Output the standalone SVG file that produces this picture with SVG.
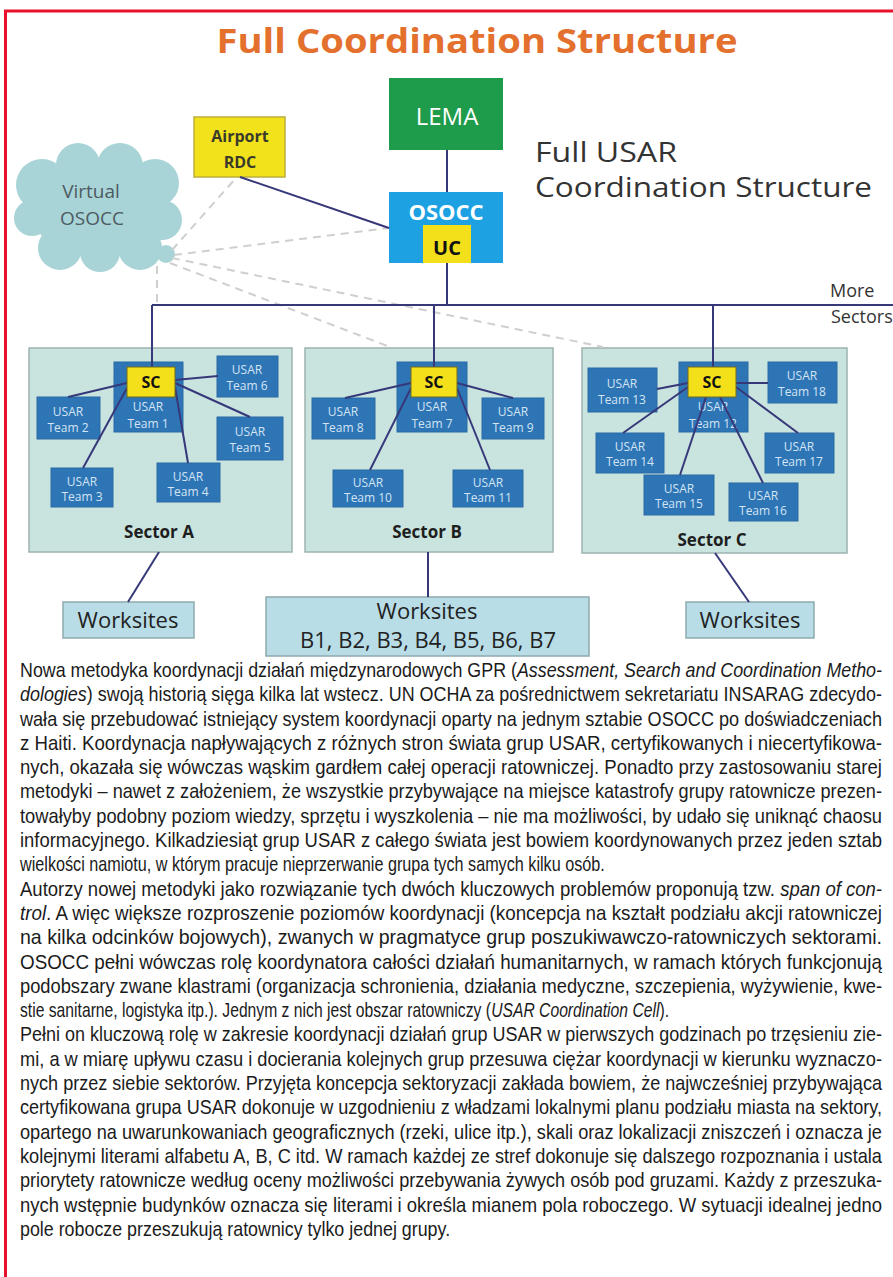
<svg xmlns="http://www.w3.org/2000/svg" width="893" height="1277" viewBox="0 0 893 1277">
<defs>
<style>
.sans{font-family:"Open Sans","Liberation Sans",Arial,sans-serif}
.team rect{fill:#2E75B6;stroke:#2B6AA5;stroke-width:1}
.team text{font-family:"Open Sans","Liberation Sans",Arial,sans-serif;font-size:12px;fill:#D3E4F4;text-anchor:middle}
.sc rect{fill:#F4E01A;stroke:#6F6A1E;stroke-width:1}
.sc text{font-family:"Open Sans","Liberation Sans",Arial,sans-serif;font-weight:bold;font-size:16px;fill:#111;text-anchor:middle}
.sector rect{fill:#C9E4DF;stroke:#9DB3B0;stroke-width:1.5}
.sector text{font-family:"Open Sans","Liberation Sans",Arial,sans-serif;font-weight:bold;font-size:17px;fill:#1E1E1E;text-anchor:middle}
.ws rect{fill:#B8DDE7;stroke:#8FA9AE;stroke-width:1.5}
.ws text{font-family:"Open Sans","Liberation Sans",Arial,sans-serif;font-size:22px;fill:#222;text-anchor:middle}
.conn{stroke:#363879;stroke-width:2;fill:none}
.dash{stroke:#CFCFCF;stroke-width:2;stroke-dasharray:8 6;fill:none}
.body{font-family:"Liberation Sans",Arial,sans-serif;font-size:20px;fill:#1B1B1B}
.it{font-style:italic}
</style>
</defs>
<rect x="0" y="0" width="893" height="1277" fill="#FFFFFF"/>
<g id="frame">
<line x1="4" y1="11" x2="893" y2="11" stroke="#E8102A" stroke-width="3"/>
<line x1="5.5" y1="10" x2="5.5" y2="1277" stroke="#E8102A" stroke-width="3"/>
</g>
<text id="title" class="sans" x="477" y="53" text-anchor="middle" font-size="34" font-weight="bold" fill="#E4702E" textLength="521" lengthAdjust="spacingAndGlyphs">Full Coordination Structure</text>
<g id="subtitle" class="sans" fill="#333333" font-size="28">
<text x="535" y="162" textLength="142" lengthAdjust="spacingAndGlyphs">Full USAR</text>
<text x="535" y="197" textLength="337" lengthAdjust="spacingAndGlyphs">Coordination Structure</text>
</g>
<g id="more-sectors" class="sans" fill="#333333" font-size="18">
<text x="830" y="297">More</text>
<text x="831" y="323">Sectors</text>
</g>
<g id="virtual-osocc">
<g fill="#A9D4D7">
<ellipse cx="98" cy="207" rx="72" ry="46"/>
<circle cx="42" cy="185" r="26"/>
<circle cx="78" cy="165" r="22"/>
<circle cx="120" cy="166" r="23"/>
<circle cx="155" cy="183" r="24"/>
<circle cx="162" cy="220" r="20"/>
<circle cx="140" cy="248" r="22"/>
<circle cx="100" cy="252" r="20"/>
<circle cx="60" cy="248" r="22"/>
<circle cx="32" cy="218" r="18"/>
<circle cx="166" cy="254" r="9"/>
</g>
<text class="sans" x="91" y="198" text-anchor="middle" font-size="19" fill="#4D5B62">Virtual</text>
<text class="sans" x="92" y="225" text-anchor="middle" font-size="19" fill="#4D5B62">OSOCC</text>
</g>
<g id="airport-rdc">
<rect x="194" y="117" width="91" height="60" fill="#F2E21C" stroke="#BDAF3A" stroke-width="1.5"/>
<text class="sans" x="240" y="142" text-anchor="middle" font-size="16" font-weight="bold" fill="#3A3A2A">Airport</text>
<text class="sans" x="240" y="168" text-anchor="middle" font-size="16" font-weight="bold" fill="#3A3A2A">RDC</text>
</g>
<g id="lema">
<rect x="389" y="78" width="114" height="72" fill="#1E9B4B"/>
<text class="sans" x="447" y="125" text-anchor="middle" font-size="24" fill="#FFFFFF">LEMA</text>
</g>
<g id="osocc">
<rect x="389" y="192" width="114" height="71" fill="#1DA1E2"/>
<text class="sans" x="446" y="220" text-anchor="middle" font-size="22" font-weight="bold" fill="#FFFFFF">OSOCC</text>
<rect x="423" y="225" width="48" height="38" fill="#F4E01A"/>
<text class="sans" x="447" y="255" text-anchor="middle" font-size="20" font-weight="bold" fill="#111111">UC</text>
</g>
<g id="sector-a" class="sector"><rect x="29" y="348" width="263" height="204"/><text x="159" y="538">Sector A</text></g>
<g id="sector-b" class="sector"><rect x="305" y="348" width="248" height="204"/><text x="427" y="538">Sector B</text></g>
<g id="sector-c" class="sector"><rect x="582" y="348" width="265" height="205"/><text x="712" y="546">Sector C</text></g>
<g id="team1" class="team"><rect x="114" y="362" width="69" height="70"/><text x="148" y="411">USAR</text><text x="148" y="428">Team 1</text></g>
<g id="team2" class="team"><rect x="37" y="397" width="63" height="42"/><text x="68" y="416">USAR</text><text x="68" y="432">Team 2</text></g>
<g id="team3" class="team"><rect x="51" y="468" width="62" height="39"/><text x="82" y="486">USAR</text><text x="82" y="501">Team 3</text></g>
<g id="team4" class="team"><rect x="157" y="463" width="63" height="39"/><text x="188" y="481">USAR</text><text x="188" y="496">Team 4</text></g>
<g id="team5" class="team"><rect x="217" y="417" width="66" height="43"/><text x="250" y="436">USAR</text><text x="250" y="452">Team 5</text></g>
<g id="team6" class="team"><rect x="217" y="356" width="61" height="41"/><text x="247" y="374">USAR</text><text x="247" y="390">Team 6</text></g>
<g id="team7" class="team"><rect x="397" y="362" width="70" height="70"/><text x="432" y="411">USAR</text><text x="432" y="428">Team 7</text></g>
<g id="team8" class="team"><rect x="312" y="398" width="63" height="41"/><text x="343" y="416">USAR</text><text x="343" y="432">Team 8</text></g>
<g id="team9" class="team"><rect x="482" y="398" width="62" height="41"/><text x="513" y="416">USAR</text><text x="513" y="432">Team 9</text></g>
<g id="team10" class="team"><rect x="333" y="470" width="70" height="37"/><text x="368" y="487">USAR</text><text x="368" y="502">Team 10</text></g>
<g id="team11" class="team"><rect x="453" y="470" width="70" height="37"/><text x="488" y="487">USAR</text><text x="488" y="502">Team 11</text></g>
<g id="team12" class="team"><rect x="679" y="362" width="69" height="70"/><text x="713" y="411">USAR</text><text x="713" y="428">Team 12</text></g>
<g id="team13" class="team"><rect x="588" y="368" width="69" height="44"/><text x="622" y="388">USAR</text><text x="622" y="404">Team 13</text></g>
<g id="team14" class="team"><rect x="596" y="433" width="68" height="40"/><text x="630" y="451">USAR</text><text x="630" y="466">Team 14</text></g>
<g id="team15" class="team"><rect x="644" y="475" width="70" height="40"/><text x="679" y="493">USAR</text><text x="679" y="508">Team 15</text></g>
<g id="team16" class="team"><rect x="729" y="483" width="69" height="38"/><text x="763" y="500">USAR</text><text x="763" y="515">Team 16</text></g>
<g id="team17" class="team"><rect x="765" y="433" width="69" height="40"/><text x="799" y="451">USAR</text><text x="799" y="466">Team 17</text></g>
<g id="team18" class="team"><rect x="768" y="362" width="69" height="41"/><text x="802" y="380">USAR</text><text x="802" y="396">Team 18</text></g>
<g id="worksites-a" class="ws"><rect x="63" y="602" width="131" height="36"/><text x="128" y="628">Worksites</text></g>
<g id="worksites-b" class="ws"><rect x="266" y="597" width="323" height="59"/><text x="427" y="619" font-size="21">Worksites</text><text x="428" y="648" font-size="21">B1, B2, B3, B4, B5, B6, B7</text></g>
<g id="worksites-c" class="ws"><rect x="686" y="602" width="128" height="36"/><text x="750" y="628">Worksites</text></g>
<g id="connectors">
<path class="dash" d="M172 250 L236 178"/>
<path class="dash" d="M174 255 L389 228"/>
<path class="dash" d="M172 258 L603 347"/>
<path class="dash" d="M170 263 L390 347"/>
<path class="dash" d="M157 266 L157 305"/>
<path class="conn" d="M447 150 V192"/>
<path class="conn" d="M447 263 V305"/>
<path class="conn" d="M240 177 L389 228"/>
<path class="conn" d="M152 305 H893"/>
<path class="conn" d="M152 305 V367"/>
<path class="conn" d="M434 305 V367"/>
<path class="conn" d="M713 305 V367"/>
<path class="conn" d="M127 383 L68 397"/>
<path class="conn" d="M127 388 L83 468"/>
<path class="conn" d="M175 387 L188 463"/>
<path class="conn" d="M175 383 L250 417"/>
<path class="conn" d="M175 380 L218 376"/>
<path class="conn" d="M411 383 L345 398"/>
<path class="conn" d="M411 388 L370 470"/>
<path class="conn" d="M457 383 L513 398"/>
<path class="conn" d="M457 388 L490 470"/>
<path class="conn" d="M688 383 L657 389"/>
<path class="conn" d="M688 387 L623 433"/>
<path class="conn" d="M706 397 L680 475"/>
<path class="conn" d="M720 397 L763 483"/>
<path class="conn" d="M736 387 L798 433"/>
<path class="conn" d="M736 383 L768 383"/>
<path class="conn" d="M159 552 L128 602"/>
<path class="conn" d="M428 552 V597"/>
<path class="conn" d="M715 553 L749 602"/>
</g>
<g id="sc-a" class="sc"><rect x="127" y="367" width="48" height="30"/><text x="151" y="388">SC</text></g>
<g id="sc-b" class="sc"><rect x="411" y="367" width="46" height="30"/><text x="434" y="388">SC</text></g>
<g id="sc-c" class="sc"><rect x="688" y="367" width="48" height="30"/><text x="712" y="388">SC</text></g>
<g id="body-text" class="body" transform="scale(0.85,1)">
<text x="23.53" y="677" textLength="1014.1" lengthAdjust="spacingAndGlyphs">Nowa metodyka koordynacji działań międzynarodowych GPR (<tspan class="it">Assessment, Search and Coordination Metho-</tspan></text>
<text x="23.53" y="701.3" textLength="1014.1" lengthAdjust="spacingAndGlyphs"><tspan class="it">dologies</tspan>) swoją historią sięga kilka lat wstecz. UN OCHA za pośrednictwem sekretariatu INSARAG zdecydo-</text>
<text x="23.53" y="725.6" textLength="1014.1" lengthAdjust="spacingAndGlyphs">wała się przebudować istniejący system koordynacji oparty na jednym sztabie OSOCC po doświadczeniach</text>
<text x="23.53" y="749.9" textLength="1014.1" lengthAdjust="spacingAndGlyphs">z Haiti. Koordynacja napływających z różnych stron świata grup USAR, certyfikowanych i niecertyfikowa-</text>
<text x="23.53" y="774.2" textLength="1014.1" lengthAdjust="spacingAndGlyphs">nych, okazała się wówczas wąskim gardłem całej operacji ratowniczej. Ponadto przy zastosowaniu starej</text>
<text x="23.53" y="798.5" textLength="1014.1" lengthAdjust="spacingAndGlyphs">metodyki – nawet z założeniem, że wszystkie przybywające na miejsce katastrofy grupy ratownicze prezen-</text>
<text x="23.53" y="822.8" textLength="1014.1" lengthAdjust="spacingAndGlyphs">towałyby podobny poziom wiedzy, sprzętu i wyszkolenia – nie ma możliwości, by udało się uniknąć chaosu</text>
<text x="23.53" y="847.1" textLength="1014.1" lengthAdjust="spacingAndGlyphs">informacyjnego. Kilkadziesiąt grup USAR z całego świata jest bowiem koordynowanych przez jeden sztab</text>
<text x="23.53" y="871.4" textLength="688" lengthAdjust="spacingAndGlyphs">wielkości namiotu, w którym pracuje nieprzerwanie grupa tych samych kilku osób.</text>
<text x="23.53" y="895.7" textLength="1014.1" lengthAdjust="spacingAndGlyphs">Autorzy nowej metodyki jako rozwiązanie tych dwóch kluczowych problemów proponują tzw. <tspan class="it">span of con-</tspan></text>
<text x="23.53" y="920" textLength="1014.1" lengthAdjust="spacingAndGlyphs"><tspan class="it">trol</tspan>. A więc większe rozproszenie poziomów koordynacji (koncepcja na kształt podziału akcji ratowniczej</text>
<text x="23.53" y="944.3" textLength="1014.1" lengthAdjust="spacingAndGlyphs">na kilka odcinków bojowych), zwanych w pragmatyce grup poszukiwawczo-ratowniczych sektorami.</text>
<text x="23.53" y="968.6" textLength="1014.1" lengthAdjust="spacingAndGlyphs">OSOCC pełni wówczas rolę koordynatora całości działań humanitarnych, w ramach których funkcjonują</text>
<text x="23.53" y="992.9" textLength="1014.1" lengthAdjust="spacingAndGlyphs">podobszary zwane klastrami (organizacja schronienia, działania medyczne, szczepienia, wyżywienie, kwe-</text>
<g transform="translate(23.53,1017.2) scale(0.9235,1)">
<text x="0" y="0">stie sanitarne, logistyka itp.). Jednym z nich jest obszar ratowniczy (</text>
<text class="it" x="600.2" y="0">USAR Coordination Cell</text>
<text x="814.7" y="0">).</text>
</g>
<text x="23.53" y="1041.5" textLength="1014.1" lengthAdjust="spacingAndGlyphs">Pełni on kluczową rolę w zakresie koordynacji działań grup USAR w pierwszych godzinach po trzęsieniu zie-</text>
<text x="23.53" y="1065.8" textLength="1014.1" lengthAdjust="spacingAndGlyphs">mi, a w miarę upływu czasu i docierania kolejnych grup przesuwa ciężar koordynacji w kierunku wyznaczo-</text>
<text x="23.53" y="1090.1" textLength="1014.1" lengthAdjust="spacingAndGlyphs">nych przez siebie sektorów. Przyjęta koncepcja sektoryzacji zakłada bowiem, że najwcześniej przybywająca</text>
<text x="23.53" y="1114.4" textLength="1014.1" lengthAdjust="spacingAndGlyphs">certyfikowana grupa USAR dokonuje w uzgodnieniu z władzami lokalnymi planu podziału miasta na sektory,</text>
<text x="23.53" y="1138.7" textLength="1014.1" lengthAdjust="spacingAndGlyphs">opartego na uwarunkowaniach geograficznych (rzeki, ulice itp.), skali oraz lokalizacji zniszczeń i oznacza je</text>
<text x="23.53" y="1163" textLength="1014.1" lengthAdjust="spacingAndGlyphs">kolejnymi literami alfabetu A, B, C itd. W ramach każdej ze stref dokonuje się dalszego rozpoznania i ustala</text>
<text x="23.53" y="1187.3" textLength="1014.1" lengthAdjust="spacingAndGlyphs">priorytety ratownicze według oceny możliwości przebywania żywych osób pod gruzami. Każdy z przeszuka-</text>
<text x="23.53" y="1211.6" textLength="1014.1" lengthAdjust="spacingAndGlyphs">nych wstępnie budynków oznacza się literami i określa mianem pola roboczego. W sytuacji idealnej jedno</text>
<text x="23.53" y="1235.9" textLength="506" lengthAdjust="spacingAndGlyphs">pole robocze przeszukują ratownicy tylko jednej grupy.</text>
</g>
</svg>
